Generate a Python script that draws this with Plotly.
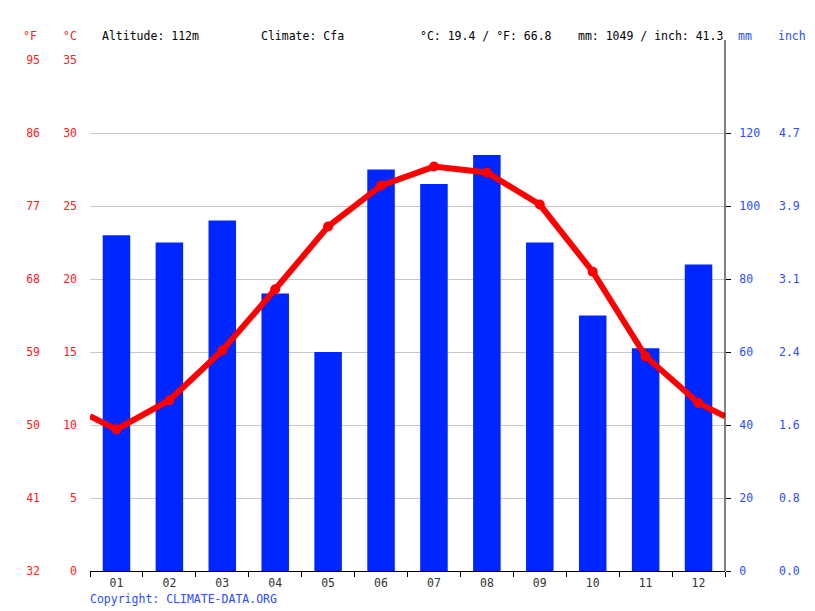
"""Diagramme climatique : précipitations (barres) et température (ligne)"""

import plotly.graph_objects as go

# données
months = ["01", "02", "03", "04", "05", "06", "07", "08", "09", "10", "11", "12"]
precip_mm = [92, 90, 96, 76, 60, 110, 106, 114, 90, 70, 61, 84]
temp_c = [9.7, 11.7, 15.1, 19.3, 23.6, 26.4, 27.7, 27.3, 25.1, 20.5, 14.7, 11.5]
edge_temp_c = 10.6  # valeur de la ligne aux bords gauche et droit

c_ticks = [0, 5, 10, 15, 20, 25, 30, 35]
f_ticks = [32, 41, 50, 59, 68, 77, 86, 95]
mm_ticks = [0, 20, 40, 60, 80, 100, 120]
inch_labels = ["0.0", "0.8", "1.6", "2.4", "3.1", "3.9", "4.7"]

header = {"altitude": "Altitude: 112m", "climate": "Climate: Cfa",
          "temp": "°C: 19.4 / °F: 66.8", "rain": "mm: 1049 / inch: 41.3"}

W, H = 815, 611
X0, X1, Y0, Y1 = 90, 725, 60, 571
FONT = "DejaVu Sans Mono"
RED = "#ff2020"
BLUE = "#0026ff"
LBLUE = "#2a4dff"


def px(x):
    return x / W


def py(y):
    return 1 - y / H


x = list(range(1, 13))
fig = go.Figure()
# barres sur l'axe principal (sous la grille des autres traces)
fig.add_trace(go.Bar(x=x, y=precip_mm, width=0.52, marker_color=BLUE,
                     marker_line_width=0, yaxis="y"))
fig.add_trace(go.Scatter(x=[0.5] + x + [12.5], y=[edge_temp_c] + temp_c + [edge_temp_c],
                         mode="lines", line=dict(color="#ff0000", width=6),
                         yaxis="y2"))
fig.add_trace(go.Scatter(x=x, y=temp_c, mode="markers",
                         marker=dict(color="#ff0000", size=10), yaxis="y2"))
# traces invisibles pour faire apparaître les axes secondaires
fig.add_trace(go.Scatter(x=[0.5, 12.5], y=[0, 0], mode="markers", opacity=0,
                         xaxis="x2", yaxis="y", hoverinfo="skip"))
for ax in ["y3", "y4", "y5"]:
    fig.add_trace(go.Scatter(x=[1], y=[1], mode="markers", opacity=0,
                             yaxis=ax, hoverinfo="skip"))

tf_red = dict(color=RED, size=11.5)
tf_blue = dict(color=LBLUE, size=11.5)
fig.update_layout(
    width=W, height=H, showlegend=False, plot_bgcolor="white", paper_bgcolor="white",
    margin=dict(l=0, r=0, t=0, b=0, autoexpand=False),
    font=dict(family=FONT, size=11.5),
    xaxis=dict(domain=[px(X0), px(X1)], range=[0.5, 12.5], tickvals=x, ticktext=months,
               ticks="", showgrid=False, zeroline=False, showline=True,
               linecolor="black", linewidth=1, tickfont=dict(color="#333333", size=11.5),
               ticklabelstandoff=1, automargin=False),
    xaxis2=dict(overlaying="x", anchor="y", side="bottom", range=[0.5, 12.5],
                tickvals=[i + 0.5 for i in range(13)], showticklabels=False,
                ticks="outside", ticklen=5, tickcolor="black", showgrid=False,
                zeroline=False, automargin=False),
    # axe principal : seulement la grille
    yaxis=dict(domain=[1 - Y1 / H, 1 - Y0 / H], range=[0, 140],
               tickvals=[0, 20, 40, 60, 80, 100, 120, 140], showticklabels=False,
               showgrid=True, gridcolor="#c8c8c8", gridwidth=1, zeroline=False,
               automargin=False),
    yaxis2=dict(overlaying="y", side="left", range=[0, 35], tickvals=c_ticks,
                showgrid=False, zeroline=False, tickfont=tf_red,
                ticklabelstandoff=12, automargin=False),
    yaxis3=dict(overlaying="y", anchor="free", position=px(40), side="left",
                range=[32, 95], tickvals=f_ticks, showgrid=False, zeroline=False,
                tickfont=tf_red, ticklabelstandoff=0, automargin=False),
    yaxis4=dict(overlaying="y", side="right", range=[0, 140], tickvals=mm_ticks,
                showgrid=False, zeroline=False, ticks="outside", ticklen=5,
                tickcolor="black", tickfont=tf_blue, ticklabelstandoff=6,
                automargin=False),
    yaxis5=dict(overlaying="y", anchor="free", position=px(778), side="right",
                range=[0, 140 / 25.4], tickvals=[v / 25.4 for v in mm_ticks],
                ticktext=inch_labels, showgrid=False, zeroline=False,
                tickfont=tf_blue, ticklabelstandoff=0, automargin=False),
)

# ligne verticale de l'axe de droite (dépasse un peu en haut)
fig.add_shape(type="line", xref="paper", yref="paper", x0=px(X1), x1=px(X1),
              y0=py(Y1), y1=py(40), line=dict(color="black", width=1))

top = py(36)
notes = [
    (30, "°F", RED, "center"), (70, "°C", RED, "center"),
    (100, header["altitude"], "black", "left"), (259, header["climate"], "black", "left"),
    (418, header["temp"], "black", "left"), (576, header["rain"], "black", "left"),
    (745, "mm", LBLUE, "center"), (792, "inch", LBLUE, "center"),
]
for xpos, text, color, anchor in notes:
    fig.add_annotation(x=px(xpos), y=top, xref="paper", yref="paper", text=text,
                       showarrow=False, xanchor=anchor, yanchor="middle",
                       font=dict(family=FONT, size=11.5, color=color))
fig.add_annotation(x=px(88), y=py(599), xref="paper", yref="paper",
                   text="Copyright: CLIMATE-DATA.ORG", showarrow=False,
                   xanchor="left", yanchor="middle",
                   font=dict(family=FONT, size=11.5, color=LBLUE))

# page sans marge pour que la figure commence au coin
fig.write_html("out.html", config={"displayModeBar": False}, post_script=(
    "document.body.style.margin='0';"
    "var d=document.getElementById('{plot_id}');"
    "d.style.position='absolute';d.style.left='0';d.style.top='0';"))
